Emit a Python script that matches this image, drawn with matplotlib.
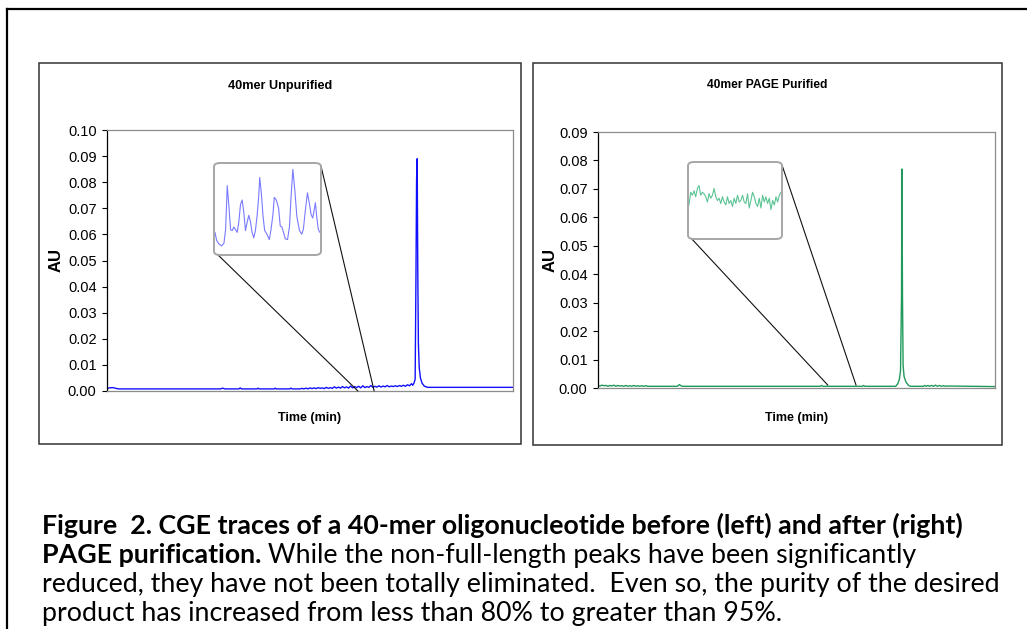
import matplotlib
matplotlib.use("Agg")
import matplotlib.pyplot as plt
from matplotlib import font_manager
from matplotlib.patches import Rectangle, FancyBboxPatch, ConnectionPatch
from matplotlib.lines import Line2D

# ---------------- data ----------------
left_title = "40mer Unpurified"
right_title = "40mer PAGE Purified"
x_label = "Time (min)"
y_label = "AU"
left_yticks = [0.00, 0.01, 0.02, 0.03, 0.04, 0.05, 0.06, 0.07, 0.08, 0.09, 0.10]
right_yticks = [0.00, 0.01, 0.02, 0.03, 0.04, 0.05, 0.06, 0.07, 0.08, 0.09]

left_t = [0, 0.5, 1.5, 2.5, 3, 28, 28.5, 29, 32.5, 32.8, 33.1, 37, 37.2, 37.5, 41.2, 41.4, 41.7,
          45, 45.3, 45.6, 47.5, 48, 48.5, 49, 49.5, 50, 50.5, 51, 51.5, 52, 52.5, 53, 53.5, 54,
          54.5, 55, 55.5, 56, 56.5, 57, 57.5, 58, 58.5, 59, 59.5, 60, 60.5, 61, 61.5, 62, 62.5,
          63, 63.5, 64, 64.5, 65, 65.5, 66, 66.5, 67, 67.5, 68, 68.5, 69, 69.5, 70, 70.5, 71,
          71.5, 72, 72.5, 73, 73.5, 74, 74.5, 75, 75.3, 75.6, 75.9, 76.1, 76.25, 76.4, 76.55,
          76.7, 76.9, 77.2, 77.6, 78.2, 79, 100]
left_au = [0.0009, 0.0012, 0.0013, 0.0009, 0.0008, 0.0008, 0.0011, 0.0008, 0.0008, 0.0012, 0.0008,
           0.0008, 0.0011, 0.0008, 0.0008, 0.0011, 0.0008, 0.0008, 0.0011, 0.0008, 0.0008, 0.0010,
           0.0008, 0.0011, 0.0008, 0.0012, 0.0009, 0.0012, 0.0009, 0.0013, 0.0010, 0.0012, 0.0009,
           0.0014, 0.0010, 0.0013, 0.0010, 0.0016, 0.0011, 0.0015, 0.0011, 0.0017, 0.0012, 0.0016,
           0.0011, 0.0019, 0.0012, 0.0017, 0.0013, 0.0018, 0.0012, 0.0020, 0.0013, 0.0017, 0.0014,
           0.0021, 0.0014, 0.0018, 0.0015, 0.0020, 0.0015, 0.0019, 0.0016, 0.0021, 0.0016, 0.0019,
           0.0017, 0.0020, 0.0017, 0.0021, 0.0018, 0.0022, 0.0018, 0.0024, 0.0020, 0.0028, 0.0022,
           0.0030, 0.0045, 0.0440, 0.0810, 0.0890, 0.0450, 0.0180, 0.0090, 0.0050, 0.0030, 0.0018,
           0.0014, 0.0014]

right_t = [0, 0.5, 1, 1.5, 2, 2.5, 3, 3.5, 4, 4.5, 5, 5.5, 6, 6.5, 7, 7.5, 8, 8.5, 9, 9.5, 10,
           10.5, 11, 11.5, 12, 12.5, 20, 20.5, 21, 21.3, 56, 56.3, 56.6, 66.6, 66.9, 67.2, 75.0,
           75.5, 75.9, 76.2, 76.45, 76.55, 76.7, 76.85, 77.1, 77.6, 78.3, 78.8, 82, 82.3, 82.7,
           83.1, 83.5, 84, 84.5, 85, 85.5, 86, 86.5, 87, 87.5, 88, 100]
right_au = [0.0009, 0.0007, 0.0010, 0.0008, 0.0009, 0.0006, 0.0009, 0.0007, 0.0010, 0.0006, 0.0009,
            0.0007, 0.0008, 0.0006, 0.0009, 0.0006, 0.0008, 0.0006, 0.0009, 0.0006, 0.0008, 0.0006,
            0.0008, 0.0006, 0.0008, 0.0006, 0.0006, 0.0012, 0.0007, 0.0006, 0.0006, 0.0009, 0.0006,
            0.0006, 0.0009, 0.0006, 0.0006, 0.0015, 0.0030, 0.0060, 0.0320, 0.0770, 0.0320, 0.0080,
            0.0040, 0.0020, 0.0008, 0.0006, 0.0006, 0.0009, 0.0006, 0.0009, 0.0006, 0.0009, 0.0006,
            0.0010, 0.0006, 0.0009, 0.0006, 0.0008, 0.0006, 0.0007, 0.0005]

# zoomed insets (relative signal)
left_zoom_x = [0, 5, 12, 20, 27, 32, 37, 42, 47, 52, 57, 62, 67, 72, 77, 82, 87, 92, 97, 102,
               107, 112, 117, 122, 127, 132, 135, 140, 145, 150, 157, 164, 169, 175, 179, 185,
               192, 197, 202, 207, 212, 219, 225, 229, 235, 241, 247, 255, 262, 267, 272, 279,
               285, 290, 295, 300, 303, 307, 312, 317]
left_zoom_y = [24, 15, 11, 9, 12, 27, 76, 53, 27, 26, 30, 27, 24, 36, 55, 60, 46, 26, 35, 43,
               36, 24, 18, 26, 42, 64, 85, 67, 42, 26, 22, 16, 27, 44, 63, 60, 51, 31, 30, 24,
               17, 16, 31, 60, 94, 71, 42, 26, 22, 28, 46, 68, 56, 44, 40, 50, 57, 42, 27, 24]
right_zoom_y = [44, 61, 57, 63, 55, 66, 70, 57, 61, 59, 55, 48, 59, 53, 57, 66, 55, 50, 53, 46,
                55, 48, 44, 55, 46, 50, 42, 53, 46, 57, 48, 50, 57, 48, 46, 59, 40, 50, 61, 55,
                46, 42, 53, 40, 57, 48, 55, 46, 53, 38, 50, 44, 55, 48, 57, 61]

caption_line1 = "Figure  2. CGE traces of a 40-mer oligonucleotide before (left) and after (right)"
caption_line2_bold = "PAGE purification."
caption_line2 = " While the non-full-length peaks have been significantly"
caption_line3 = "reduced, they have not been totally eliminated.  Even so, the purity of the desired"
caption_line4 = "product has increased from less than 80% to greater than 95%."

# ---------------- figure ----------------
W, H = 1027, 629
fig = plt.figure(figsize=(W / 100, H / 100), dpi=100)
fig.patch.set_facecolor("white")
renderer = fig.canvas.get_renderer()

names = {f.name for f in font_manager.fontManager.ttflist}
narrow = "Liberation Sans Narrow" if "Liberation Sans Narrow" in names else "Liberation Sans"
capfont = "Lato" if "Lato" in names else "DejaVu Sans"


def fx(x):
    return x / W


def fy(y):
    return 1 - y / H


def fit_text(x, y, s, target_w, size0=10, **kw):
    t = fig.text(fx(x), fy(y), s, fontsize=size0, **kw)
    bb = t.get_window_extent(renderer)
    t.set_fontsize(size0 * target_w / bb.width)
    return t


# outer border (top and left visible)
fig.add_artist(Line2D([fx(7), 1.0], [fy(9), fy(9)], color="black", lw=1.6))
fig.add_artist(Line2D([fx(7), fx(7)], [fy(9), 0.0], color="black", lw=1.6))

# panel boxes
for (x0, y0, x1, y1) in [(39, 63, 521, 444), (533, 63, 1002, 445)]:
    fig.add_artist(Rectangle((fx(x0), fy(y1)), fx(x1 - x0), (y1 - y0) / H,
                             transform=fig.transFigure, fill=False,
                             edgecolor="#333333", lw=1.1))


def make_axes(px_box, yticks, ymax, t, au, color, title_pos, title, title_w,
              xlab_pos, ylab_x):
    l, tp, r, b = px_box
    ax = fig.add_axes([fx(l), fy(b), (r - l) / W, (b - tp) / H])
    ax.plot(t, au, color=color, lw=1.0)
    ax.set_xlim(0, 100)
    ax.set_ylim(0, ymax)
    ax.set_yticks(yticks)
    ax.set_yticklabels([f"{v:.2f}" for v in yticks], fontfamily=narrow, fontsize=10.5)
    ax.set_xticks([])
    ax.tick_params(axis="y", direction="out", length=3.5, width=0.8, pad=4, colors="black")
    for s in ["top", "right", "bottom"]:
        ax.spines[s].set_color("#8c8c8c")
        ax.spines[s].set_linewidth(0.9)
    ax.spines["left"].set_color("black")
    ax.spines["left"].set_linewidth(0.9)
    ax.set_ylabel(y_label, fontfamily="Liberation Sans", fontweight="bold", fontsize=12)
    ax.yaxis.set_label_coords(ylab_x, 0.5)
    fit_text(title_pos[0], title_pos[1], title, title_w, fontfamily=narrow,
             fontweight="bold", ha="center", va="center")
    fit_text(xlab_pos[0], xlab_pos[1], x_label, 63, fontfamily=narrow,
             fontweight="bold", ha="center", va="center")
    return ax


axL = make_axes((107, 130, 513, 391), left_yticks, 0.10, left_t, left_au, "#1010ff",
                (280, 86), left_title, 105, (310, 418), -0.106)
axR = make_axes((598, 132, 995, 388), right_yticks, 0.09, right_t, right_au, "#1f9a5c",
                (767, 85), right_title, 120, (797, 418), -0.103)


def make_inset(box, xs, ys, color, ax_main, pts):
    x0, y0, x1, y1 = box
    fig.add_artist(FancyBboxPatch((fx(x0), fy(y1)), fx(x1 - x0), (y1 - y0) / H,
                                  boxstyle="round,pad=0,rounding_size=0.006",
                                  transform=fig.transFigure, fill=True, facecolor="white",
                                  edgecolor="#a6a6a6", lw=1.4, zorder=5))
    ia = fig.add_axes([fx(x0 + 1), fy(y1 - 1), (x1 - x0 - 2) / W, (y1 - y0 - 2) / H], zorder=6)
    ia.plot(xs, ys, color=color, lw=0.8)
    ia.set_xlim(xs[0], xs[-1])
    ia.set_ylim(0, 100)
    ia.axis("off")
    ia.patch.set_alpha(0)
    for (bx, by), (dx, dy) in pts:
        cp = ConnectionPatch(xyA=(fx(bx), fy(by)), coordsA=fig.transFigure,
                             xyB=(dx, dy), coordsB=ax_main.transData,
                             color="#111111", lw=0.8)
        fig.add_artist(cp)


make_inset((214, 163, 321, 255), left_zoom_x, left_zoom_y, "#7a7aff", axL,
           [((216, 253), (61.8, 0.0)), ((321, 166), (65.8, 0.0))])
make_inset((688, 162, 782, 239), list(range(len(right_zoom_y))), right_zoom_y, "#5cc494", axR,
           [((690, 237), (57.9, 0.001)), ((782, 165), (65.0, 0.001))])

# caption
base = [534, 563, 592, 621]
t1 = fit_text(42, base[0], caption_line1, 928, size0=14, fontfamily=capfont,
              fontweight="bold", ha="left", va="baseline")
cs = t1.get_fontsize()
tb = fig.text(fx(42), fy(base[1]), caption_line2_bold, fontsize=cs, fontfamily=capfont,
              fontweight="bold", ha="left", va="baseline")
bb = tb.get_window_extent(renderer)
fig.text(bb.x1 / W, fy(base[1]), caption_line2, fontsize=cs, fontfamily=capfont,
         ha="left", va="baseline")
fig.text(fx(42), fy(base[2]), caption_line3, fontsize=cs, fontfamily=capfont,
         ha="left", va="baseline")
fig.text(fx(42), fy(base[3]), caption_line4, fontsize=cs, fontfamily=capfont,
         ha="left", va="baseline")

fig.savefig("out.png", dpi=100, facecolor="white")
